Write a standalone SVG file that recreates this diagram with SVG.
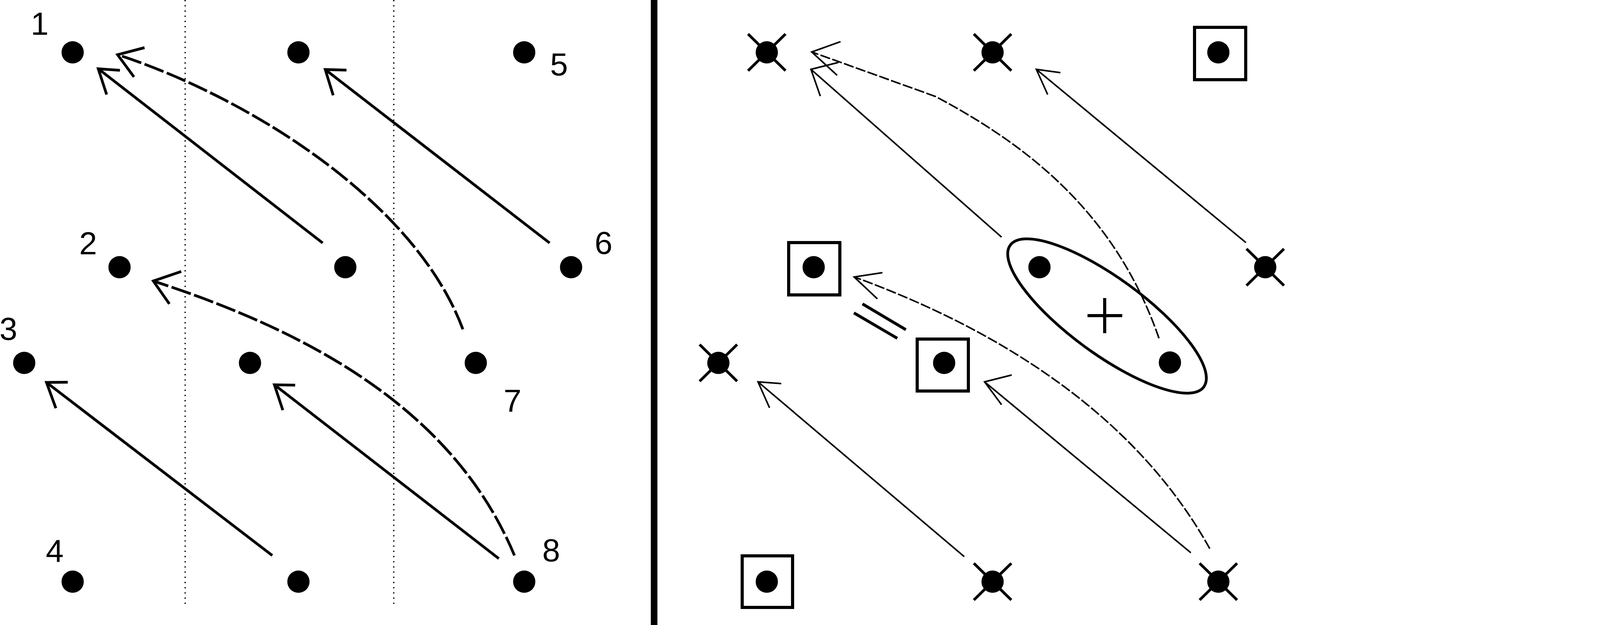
<svg xmlns="http://www.w3.org/2000/svg" width="4386" height="1600" viewBox="0 0 4386 1600">
<style>
.dot{fill:#000}
.lbl{font-family:"Liberation Sans",Arial,sans-serif;font-size:82px;fill:#000;text-anchor:middle}
.ln{fill:none;stroke:#000;stroke-width:7;stroke-linecap:butt;stroke-linejoin:miter}
.lnd{fill:none;stroke:#000;stroke-width:7;stroke-dasharray:52 9}
.rn{fill:none;stroke:#000;stroke-width:4;stroke-linejoin:miter}
.rnd{fill:none;stroke:#000;stroke-width:4;stroke-dasharray:26 6}
.xm{stroke:#000;stroke-width:7}
.box{fill:none;stroke:#000;stroke-width:8}
.grid{stroke:#000;stroke-width:3.3;stroke-dasharray:3.3 10}
</style>
<rect width="4386" height="1600" fill="#fff"/>
<g id="guides">
<line class="grid" x1="474" y1="0" x2="474" y2="1550"/>
<line class="grid" x1="1008" y1="0" x2="1008" y2="1550"/>
<rect x="1666" y="0" width="17" height="1600" fill="#000"/>
</g>
<g id="connectors">
<g id="a1"><path class="ln" d="M826,622 L251.5,176"/><polyline class="ln" points="307,180 251.5,176 273,242"/></g>
<g id="a2"><path class="ln" d="M1407,622 L832.6,178"/><polyline class="ln" points="887,179.6 832.6,178 853,244"/></g>
<g id="a3"><path class="ln" d="M697,1422 L119,979"/><polyline class="ln" points="173.5,978.6 119,979 143,1045"/></g>
<g id="a4"><path class="ln" d="M1277,1430 L702.5,985"/><polyline class="ln" points="755.6,986 702.5,985 724,1050"/></g>
<g id="c1"><path class="lnd" d="M1185,843 C1062.5,514 633.9,248.2 301,140"/><polyline class="ln" points="370,122 301,140 343,197"/></g>
<g id="c2"><path class="lnd" d="M1317,1422 C1159.1,1043.6 782.4,846.1 392.5,719.4"/><polyline class="ln" points="464,695 392.5,719.4 433.6,778"/></g>
<g id="r1"><path class="rn" d="M2564,607 L2076,177.5"/><polyline class="rn" points="2146.5,159.7 2076,177.5 2100,246"/></g>
<g id="r2"><path class="rnd" d="M2967,866 C2852.6,535.3 2615.8,364.3 2395,247 L2078,133"/><polyline class="rn" points="2151.7,106.7 2078,133 2143,192.7"/></g>
<g id="r3"><path class="rn" d="M3189.5,621 L2653,177.5"/><polyline class="rn" points="2714.6,186 2653,177.5 2682,242"/></g>
<g id="r4"><path class="rn" d="M2468.5,1425 L1940.5,977.5"/><polyline class="rn" points="2000,982 1940.5,977.5 1970,1044"/></g>
<g id="r5"><path class="rn" d="M3048.5,1415 L2520.5,977.5"/><polyline class="rn" points="2590,960 2520.5,977.5 2564,1036"/></g>
<g id="r6"><path class="rnd" d="M3097,1404.6 C2906,1061 2556,843.4 2186.6,709"/><polyline class="rn" points="2259,698 2186.6,709 2246,765"/></g>
</g>
<g id="left-nodes">
<g id="n1"><circle class="dot" cx="186" cy="134" r="28.5"/><text class="lbl" x="101.5" y="89">1</text></g>
<g id="n-l12"><circle class="dot" cx="764" cy="134" r="28.5"/></g>
<g id="n5"><circle class="dot" cx="1342" cy="134" r="28.5"/><text class="lbl" x="1431" y="193">5</text></g>
<g id="n2"><circle class="dot" cx="306" cy="684" r="28.5"/><text class="lbl" x="225.5" y="651">2</text></g>
<g id="n-l22"><circle class="dot" cx="884" cy="684" r="28.5"/></g>
<g id="n6"><circle class="dot" cx="1462" cy="684" r="28.5"/><text class="lbl" x="1545" y="650">6</text></g>
<g id="n3"><circle class="dot" cx="62" cy="929" r="28.5"/><text class="lbl" x="21.5" y="870">3</text></g>
<g id="n-l32"><circle class="dot" cx="640" cy="929" r="28.5"/></g>
<g id="n7"><circle class="dot" cx="1218" cy="929" r="28.5"/><text class="lbl" x="1312" y="1054">7</text></g>
<g id="n4"><circle class="dot" cx="186" cy="1489" r="28.5"/><text class="lbl" x="140" y="1439">4</text></g>
<g id="n-l42"><circle class="dot" cx="764" cy="1489" r="28.5"/></g>
<g id="n8"><circle class="dot" cx="1342" cy="1489" r="28.5"/><text class="lbl" x="1411" y="1437">8</text></g>
</g>
<g id="right-nodes">
<g id="rx11"><circle class="dot" cx="1963" cy="134" r="28.5"/><path class="xm" d="M1915,87 L2011,181 M2011,87 L1915,181"/></g>
<g id="rx12"><circle class="dot" cx="2541" cy="134" r="28.5"/><path class="xm" d="M2493,87 L2589,181 M2589,87 L2493,181"/></g>
<g id="rb13"><circle class="dot" cx="3119" cy="134" r="28.5"/><rect class="box" x="3058" y="70" width="131" height="134"/></g>
<g id="rb21"><circle class="dot" cx="2083" cy="684" r="28.5"/><rect class="box" x="2019" y="621" width="131" height="134"/></g>
<g id="rg22"><circle class="dot" cx="2661" cy="684" r="28.5"/></g>
<g id="rx23"><circle class="dot" cx="3239" cy="684" r="28.5"/><path class="xm" d="M3191,637 L3287,731 M3287,637 L3191,731"/></g>
<g id="rx31"><circle class="dot" cx="1839" cy="929" r="28.5"/><path class="xm" d="M1791,882 L1887,976 M1887,882 L1791,976"/></g>
<g id="rb32"><circle class="dot" cx="2417" cy="929" r="28.5"/><rect class="box" x="2348" y="868" width="131" height="133"/></g>
<g id="rg33"><circle class="dot" cx="2995" cy="928" r="28.5"/></g>
<g id="rb41"><circle class="dot" cx="1963" cy="1489" r="28.5"/><rect class="box" x="1900" y="1423" width="129" height="132"/></g>
<g id="rx42"><circle class="dot" cx="2541" cy="1489" r="28.5"/><path class="xm" d="M2493,1442 L2589,1536 M2589,1442 L2493,1536"/></g>
<g id="rx43"><circle class="dot" cx="3119" cy="1489" r="28.5"/><path class="xm" d="M3071,1442 L3167,1536 M3167,1442 L3071,1536"/></g>
<g id="group-ellipse"><ellipse cx="2834" cy="809" rx="307" ry="97" transform="rotate(36.2 2834 809)" fill="none" stroke="#000" stroke-width="7"/><path stroke="#000" stroke-width="8" d="M2828,763 L2828,853 M2784,808 L2873,808"/></g>
<g id="equals"><path stroke="#000" stroke-width="7.5" d="M2208,778 L2319,844 M2186,801 L2297,866"/></g>
</g>
</svg>
